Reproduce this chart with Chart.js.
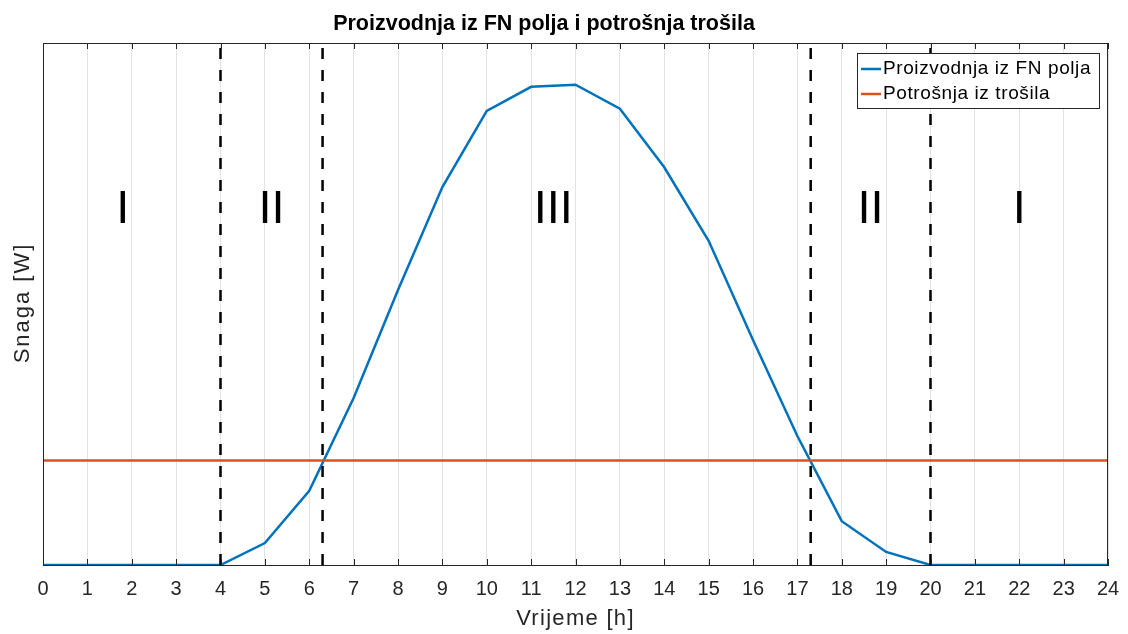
<!DOCTYPE html>
<html>
<head>
<meta charset="utf-8">
<script src="https://cdn.jsdelivr.net/npm/chart.js@4"></script>
<style>
  html, body { margin: 0; padding: 0; background: #fff; }
  #wrap { width: 1128px; height: 634px; }
</style>
</head>
<body>
<div id="wrap"><canvas id="chartCanvas" width="1128" height="634"></canvas></div>
<script>
// podaci
const hours = [0, 1, 2, 3, 4, 5, 6, 7, 8, 9, 10, 11, 12, 13, 14, 15, 16, 17, 18, 19, 20, 21, 22, 23, 24];
const production = [0, 0, 0, 0, 0, 4.2, 14.2, 32.0, 52.7, 72.4, 87.0, 91.6, 92.0, 87.4, 76.2, 62.1, 43.1, 24.7, 8.4, 2.5, 0, 0, 0, 0, 0];
const consumptionLevel = 20;
const boundaries = [4, 6.3, 17.3, 20];
const zoneLabels = ['I', 'II', 'III', 'II', 'I'];
const zoneX = [1.8, 5.15, 11.5, 18.65, 22];
const zoneY = 68;
const legendLabels = ['Proizvodnja iz FN polja', 'Potrošnja iz trošila'];
const chartTitleText = 'Proizvodnja iz FN polja i potrošnja trošila';
const xTitleText = 'Vrijeme [h]';
const yTitleText = 'Snaga [W]';

const BLUE = '#0072BD';
const ORANGE = '#D95319';
const AXIS = '#262626';
const FONT = "'Liberation Sans', Arial, sans-serif";

// skupovi podataka
const datasets = [];
boundaries.forEach(b => {
    datasets.push({
        data: [{ x: b, y: 0 }, { x: b, y: 100 }],
        borderColor: '#000',
        borderWidth: 2.5,
        borderDash: [11, 11],
        pointRadius: 0
    });
});
datasets.push({
    label: legendLabels[1],
    data: [{ x: 0, y: consumptionLevel }, { x: 24, y: consumptionLevel }],
    borderColor: ORANGE,
    borderWidth: 2.5,
    pointRadius: 0
});
datasets.push({
    label: legendLabels[0],
    data: hours.map((h, i) => ({ x: h, y: production[i] })),
    borderColor: BLUE,
    borderWidth: 2.5,
    pointRadius: 0
});

// okvir, crtice, naslovi, oznake zona i legenda
const decorPlugin = {
    id: 'decor',
    afterDatasetsDraw(chart) {
        const ctx = chart.ctx;
        const area = chart.chartArea;
        const xs = chart.scales.x;
        const ys = chart.scales.y;
        ctx.save();

        // oznake zona
        ctx.fillStyle = '#000';
        ctx.font = '47px ' + FONT;
        ctx.textAlign = 'center';
        ctx.textBaseline = 'middle';
        zoneLabels.forEach((t, i) => {
            ctx.fillText(t, xs.getPixelForValue(zoneX[i]), ys.getPixelForValue(zoneY));
        });

        // okvir
        ctx.strokeStyle = AXIS;
        ctx.lineWidth = 1;
        ctx.strokeRect(area.left + 0.5, area.top + 0.5, area.right - area.left - 1, area.bottom - area.top);

        // crtice prema unutra
        ctx.beginPath();
        hours.forEach(h => {
            const px = Math.round(xs.getPixelForValue(h)) + 0.5;
            ctx.moveTo(px, area.bottom);
            ctx.lineTo(px, area.bottom - 6);
            ctx.moveTo(px, area.top);
            ctx.lineTo(px, area.top + 6);
        });
        ctx.stroke();

        // naslov
        ctx.fillStyle = '#000';
        ctx.font = 'bold 21.5px ' + FONT;
        ctx.fillText(chartTitleText, 544, 24);

        // naslovi osi
        ctx.fillStyle = AXIS;
        ctx.font = '22px ' + FONT;
        ctx.letterSpacing = '1.3px';
        ctx.fillText(xTitleText, (area.left + area.right) / 2, 619);
        ctx.save();
        ctx.translate(23, (area.top + area.bottom) / 2 - 1);
        ctx.rotate(-Math.PI / 2);
        ctx.letterSpacing = '2px';
        ctx.fillText(yTitleText, 0, 0);
        ctx.restore();

        // legenda
        const lx = 857, ly = 53, lw = 242, lh = 55;
        ctx.fillStyle = '#fff';
        ctx.fillRect(lx, ly, lw, lh);
        ctx.strokeStyle = AXIS;
        ctx.lineWidth = 1;
        ctx.strokeRect(lx + 0.5, ly + 0.5, lw, lh);
        const colors = [BLUE, ORANGE];
        ctx.font = '19px ' + FONT;
        ctx.letterSpacing = '0.6px';
        ctx.textAlign = 'left';
        ctx.textBaseline = 'middle';
        legendLabels.forEach((t, i) => {
            const y = ly + 16 + i * 25;
            ctx.strokeStyle = colors[i];
            ctx.lineWidth = 2.5;
            ctx.beginPath();
            ctx.moveTo(lx + 4, y);
            ctx.lineTo(lx + 24, y);
            ctx.stroke();
            ctx.fillStyle = '#000';
            ctx.fillText(t, lx + 26, y);
        });
        ctx.restore();
    }
};

const ctx = document.getElementById('chartCanvas').getContext('2d');
const chart = new Chart(ctx, {
    type: 'line',
    data: { datasets: datasets },
    options: {
        responsive: false,
        animation: false,
        layout: { padding: { left: 0, right: 20, top: 43, bottom: 0 } },
        plugins: {
            legend: { display: false },
            tooltip: { enabled: false },
            title: { display: false }
        },
        scales: {
            x: {
                type: 'linear',
                min: 0,
                max: 24,
                afterFit: s => { s.height = 69; s.paddingLeft = 0; s.paddingRight = 0; },
                ticks: {
                    stepSize: 1,
                    color: AXIS,
                    padding: 12,
                    maxRotation: 0,
                    font: { family: FONT, size: 20 }
                },
                grid: { color: '#e3e3e3', drawTicks: false },
                border: { color: AXIS }
            },
            y: {
                min: 0,
                max: 100,
                afterFit: s => { s.width = 43; },
                ticks: { display: false },
                grid: { display: false, drawTicks: false },
                border: { color: AXIS }
            }
        }
    },
    plugins: [decorPlugin]
});
</script>
</body>
</html>
